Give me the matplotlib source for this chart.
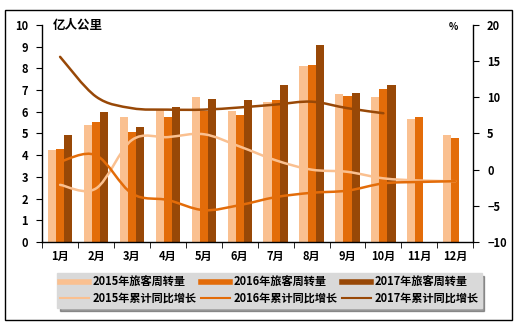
import matplotlib
matplotlib.use('Agg')
import matplotlib.pyplot as plt
import numpy as np
from matplotlib.path import Path
from matplotlib.patches import PathPatch, Rectangle
from matplotlib.lines import Line2D

plt.rcParams['font.family'] = ['Noto Sans CJK SC', 'DejaVu Sans']
plt.rcParams['font.weight'] = 'bold'

months = ['1月', '2月', '3月', '4月', '5月', '6月', '7月', '8月', '9月', '10月', '11月', '12月']

# 旅客周转量 (亿人公里)
pkm_2015 = [4.22, 5.40, 5.75, 6.07, 6.68, 6.03, 6.45, 8.13, 6.82, 6.68, 5.67, 4.93]
pkm_2016 = [4.27, 5.55, 5.05, 5.78, 6.03, 5.87, 6.55, 8.16, 6.75, 7.05, 5.76, 4.79]
pkm_2017 = [4.95, 5.97, 5.32, 6.20, 6.58, 6.53, 7.24, 9.08, 6.86, 7.23]

# 累计同比增长 (%)
growth_2015 = [-2.1, -2.6, 4.1, 4.5, 4.9, 3.2, 1.3, 0.0, -0.3, -1.2, -1.5, -1.6]
growth_2016 = [1.1, 2.0, -3.3, -4.2, -5.6, -4.9, -3.8, -3.2, -2.9, -1.9, -1.7, -1.6]
growth_2017 = [15.6, 10.1, 8.5, 8.3, 8.3, 8.6, 9.0, 9.4, 8.5, 7.8]

c15, c16, c17 = '#FAC090', '#E36C09', '#984807'

fig = plt.figure(figsize=(5.2, 3.27), dpi=100)
ax = fig.add_axes([0.081, 0.26, 0.829, 0.6635])
ax2 = ax.twinx()
ax.set_zorder(1)
ax2.set_zorder(2)
ax2.patch.set_visible(False)

x = np.arange(len(months))
w = 0.225
ax.bar(x[:len(pkm_2015)] - w, pkm_2015, w, color=c15, zorder=2)
ax.bar(x[:len(pkm_2016)], pkm_2016, w, color=c16, zorder=2)
ax.bar(x[:len(pkm_2017)] + w, pkm_2017, w, color=c17, zorder=2)


def smooth_line(axis, ys, color, lw=1.8):
    # Catmull-Rom style bezier, like Excel's smoothed line
    pts = np.column_stack([np.arange(len(ys)), ys]).astype(float)
    verts = [pts[0]]
    codes = [Path.MOVETO]
    n = len(pts)
    for i in range(n - 1):
        p0 = pts[max(i - 1, 0)]
        p1 = pts[i]
        p2 = pts[i + 1]
        p3 = pts[min(i + 2, n - 1)]
        c1 = p1 + (p2 - p0) / 6.0
        c2 = p2 - (p3 - p1) / 6.0
        verts += [c1, c2, p2]
        codes += [Path.CURVE4] * 3
    axis.add_patch(PathPatch(Path(verts, codes), fill=False, edgecolor=color,
                             lw=lw, capstyle='round', zorder=3))


smooth_line(ax2, growth_2015, c15)
smooth_line(ax2, growth_2016, c16)
smooth_line(ax2, growth_2017, c17)

ax.set_xlim(-0.5, 11.5)
ax.set_ylim(0, 10)
ax2.set_ylim(-10, 20)
ax.set_yticks(range(0, 11))
ax2.set_yticks(range(-10, 21, 5))
ax.set_xticks(x)
ax.set_xticklabels(months)
ax.set_xticks(np.arange(-0.5, 12, 1), minor=True)
ax.tick_params(axis='x', which='major', length=0, pad=6, labelsize=8)
ax.tick_params(axis='x', which='minor', length=4, direction='out')
ax.tick_params(axis='y', length=4, direction='out', labelsize=8, pad=6)
ax2.tick_params(axis='y', length=4, direction='out', labelsize=8, pad=6)
for a in (ax, ax2):
    a.spines['top'].set_visible(False)
    for s in a.spines.values():
        s.set_linewidth(1.0)
ax2.spines['left'].set_visible(False)
ax2.spines['bottom'].set_visible(False)
ax.spines['right'].set_visible(False)

ax.text(0.025, 1.0, '亿人公里', transform=ax.transAxes, ha='left', va='center',
        fontsize=9, fontweight='bold')
ax.text(0.965, 0.99, '%', transform=ax.transAxes, ha='right', va='center',
        fontsize=7, fontweight='bold')

# outer border
fig.add_artist(Rectangle((5 / 520, 1 - 320 / 327), 507 / 520, 310 / 327,
                         transform=fig.transFigure, fill=False, ec='black', lw=1.0))

handles = [Line2D([], [], color=c15, lw=4), Line2D([], [], color=c16, lw=4),
           Line2D([], [], color=c17, lw=4), Line2D([], [], color=c15, lw=1.5),
           Line2D([], [], color=c16, lw=1.5), Line2D([], [], color=c17, lw=1.5)]
labels = ['2015年旅客周转量', '2016年旅客周转量', '2017年旅客周转量',
          '2015年累计同比增长', '2016年累计同比增长', '2017年累计同比增长']
order = [0, 3, 1, 4, 2, 5]
leg = fig.legend([handles[i] for i in order], [labels[i] for i in order],
                 ncol=3, loc='center', bbox_to_anchor=(0.518, 0.112),
                 frameon=True, fancybox=False, shadow=True, fontsize=8,
                 handlelength=2.6, handletextpad=0.3, columnspacing=0.4,
                 labelspacing=0.2, borderpad=0.3)
leg.get_frame().set_facecolor('#D9D9D9')
leg.get_frame().set_edgecolor('#D9D9D9')

plt.savefig('out.png', dpi=100)
